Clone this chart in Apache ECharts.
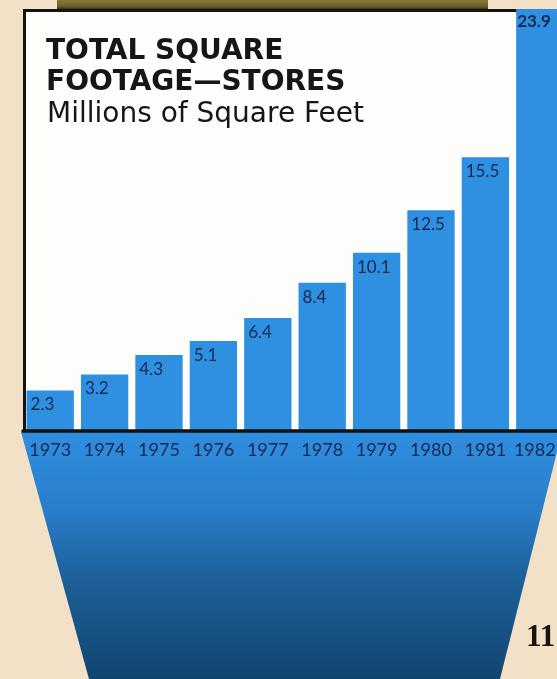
<!DOCTYPE html>
<html>
<head>
<meta charset="utf-8">
<script src="https://cdn.jsdelivr.net/npm/echarts@6/dist/echarts.min.js"></script>
<style>
  html, body { margin: 0; padding: 0; background: #f2e1c6; }
  #chart { width: 557px; height: 679px; }
</style>
</head>
<body>
<div id="chart"></div>
<script>
// Store floor space by year, millions of square feet
const years = ['1973', '1974', '1975', '1976', '1977', '1978', '1979', '1980', '1981', '1982'];
const storeFootage = [2.3, 3.2, 4.3, 5.1, 6.4, 8.4, 10.1, 12.5, 15.5, 23.9];
const titleLines = ['TOTAL SQUARE', 'FOOTAGE\u2014STORES'];
const subtitle = 'Millions of Square Feet';
const pageNumber = '11';

const BAR_BLUE = '#2f8fe0';
const NAVY = '#182850';

const chart = echarts.init(document.getElementById('chart'), null, { renderer: 'canvas' });

const barData = storeFootage.map((v, i) => {
  const item = { value: v };
  if (i === storeFootage.length - 1) {
    item.label = { fontWeight: 'bold', position: [1, 4] };
  }
  return item;
});

chart.setOption({
  backgroundColor: '#f2e1c6',
  animation: false,
  grid: { left: 23, top: 9, width: 544, height: 422, outerBoundsMode: 'none' },
  xAxis: {
    type: 'category',
    data: years,
    axisTick: { show: false },
    axisLine: { show: true, lineStyle: { color: '#111', width: 3.5 } },
    axisLabel: {
      margin: 10,
      color: NAVY,
      fontFamily: 'Lato',
      fontSize: 18,
      interval: 0,
      // the last year sits against the page edge, so nudge it inward
      formatter: (value, idx) => idx === years.length - 1 ? '{edge|' + value + '}' : value,
      rich: {
        edge: { color: NAVY, fontFamily: 'Lato', fontSize: 18, padding: [0, 10, 0, 0] }
      }
    },
    z: 5
  },
  yAxis: {
    type: 'value',
    min: 0,
    max: 'dataMax',
    show: false,
    splitLine: { show: false }
  },
  graphic: [
    // olive band across the top edge
    {
      type: 'rect', z: -20,
      shape: { x: 57, y: 0, width: 431, height: 9 },
      style: {
        fill: new echarts.graphic.LinearGradient(0, 0, 0, 1, [
          { offset: 0, color: '#847a3a' },
          { offset: 0.7, color: '#6a6128' },
          { offset: 1, color: '#3b3012' }
        ])
      }
    },
    // white chart panel with black frame
    {
      type: 'rect', z: -10,
      shape: { x: 24.5, y: 10.5, width: 560, height: 421 },
      style: { fill: '#fdfdfb', stroke: '#141414', lineWidth: 3 }
    },
    // blue funnel below the axis
    {
      type: 'polygon', z: -10,
      shape: { points: [[21, 432], [562, 432], [500, 679], [89, 679]] },
      style: {
        fill: new echarts.graphic.LinearGradient(0, 0, 0, 1, [
          { offset: 0, color: '#2f8ee0' },
          { offset: 0.3, color: '#2a7fcc' },
          { offset: 0.6, color: '#1d5f98' },
          { offset: 1, color: '#114570' }
        ])
      }
    },
    // title block
    {
      type: 'text', z: 10, left: 46, top: 38,
      style: { text: titleLines[0], fill: '#161616', font: 'bold 28px "DejaVu Sans"' }
    },
    {
      type: 'text', z: 10, left: 46, top: 69,
      style: { text: titleLines[1], fill: '#161616', font: 'bold 28px "DejaVu Sans"' }
    },
    {
      type: 'text', z: 10, left: 47, top: 101,
      style: { text: subtitle, fill: '#161616', font: '28px "DejaVu Sans"' }
    },
    // page number
    {
      type: 'text', z: 10, left: 526, top: 622,
      style: { text: pageNumber, fill: '#1a120c', font: 'bold 31px "Liberation Serif"' }
    }
  ],
  series: [{
    type: 'bar',
    data: barData,
    barCategoryGap: '13%',
    itemStyle: { color: BAR_BLUE },
    z: 2,
    label: {
      show: true,
      position: [4, 6],
      color: NAVY,
      fontFamily: 'Lato',
      fontSize: 17,
      formatter: (p) => p.value.toFixed(1)
    }
  }]
});
</script>
</body>
</html>
